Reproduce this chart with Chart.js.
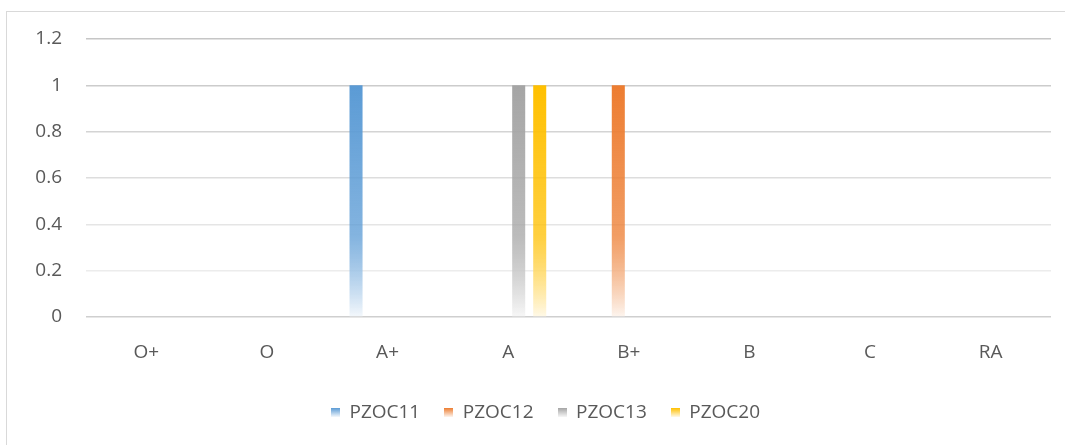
<!DOCTYPE html>
<html>
<head>
<meta charset="utf-8">
<script src="https://cdn.jsdelivr.net/npm/chart.js@4/dist/chart.umd.min.js"></script>
<style>
body{margin:0;background:#fff;overflow:hidden;}
#wrap{position:relative;width:1065px;height:445px;}
#frame{position:absolute;left:6px;top:11px;width:1100px;height:500px;border:1px solid #d9d9d9;pointer-events:none;}
</style>
</head>
<body>
<div id="wrap">
<canvas id="gradeChart" width="1065" height="445"></canvas>
<div id="frame"></div>
</div>
<script>
// grades on the x axis
const grades = ["O+","O","A+","A","B+","B","C","RA"];

// one array per course
const pzoc11 = [0,0,1,0,0,0,0,0];
const pzoc12 = [0,0,0,0,1,0,0,0];
const pzoc13 = [0,0,0,1,0,0,0,0];
const pzoc20 = [0,0,0,1,0,0,0,0];

const seriesNames = ["PZOC11","PZOC12","PZOC13","PZOC20"];
const seriesData = [pzoc11,pzoc12,pzoc13,pzoc20];
const topColors = ["#5b9bd5","#ed7d31","#a5a5a5","#ffc000"];
const bottomColors = ["#f4f8fc","#fdf5ef","#f7f7f7","#fff9e8"];

const gridColors = ["#cfcfcf","#ececec","#e5e5e5","#dddddd","#d4d4d4","#cccccc","#c6c6c6"];

function barFill(i){
  return function(ctx){
    const chart = ctx.chart;
    if(!chart.chartArea || !chart.scales.y) return topColors[i];
    const y = chart.scales.y;
    const g = chart.ctx.createLinearGradient(0,y.getPixelForValue(1),0,y.getPixelForValue(0));
    g.addColorStop(0,topColors[i]);
    g.addColorStop(0.65,topColors[i] + "c0");
    g.addColorStop(1,bottomColors[i]);
    return g;
  };
}

function legendBox(i){
  const c = document.createElement("canvas");
  c.width = 9; c.height = 9;
  const x = c.getContext("2d");
  const g = x.createLinearGradient(0,0,0,9);
  g.addColorStop(0,topColors[i]);
  g.addColorStop(1,bottomColors[i]);
  x.fillStyle = g;
  x.fillRect(0,0,9,9);
  return c;
}

// nudge the legend to the right, as in the original
const legendShift = {
  id:"legendShift",
  afterLayout:function(chart){
    if(chart.legend){ chart.legend.left += 20; chart.legend.right += 20; }
  }
};

const fontStack = "'Open Sans', 'Liberation Sans', sans-serif";

new Chart("gradeChart",{
  type:"bar",
  data:{
    labels:grades,
    datasets:seriesNames.map(function(name,i){
      return {
        label:name,
        data:seriesData[i],
        backgroundColor:barFill(i),
        borderWidth:0,
        categoryPercentage:0.697,
        barPercentage:0.62
      };
    })
  },
  plugins:[legendShift],
  options:{
    responsive:false,
    animation:false,
    layout:{padding:{left:0,right:14,top:39,bottom:13}},
    plugins:{
      tooltip:{enabled:false},
      legend:{
        position:"bottom",
        labels:{
          usePointStyle:true,
          boxWidth:9,
          boxHeight:9,
          padding:24,
          color:"#595959",
          font:{family:fontStack,size:19},
          generateLabels:function(chart){
            return seriesNames.map(function(name,i){
              return {text:name,pointStyle:legendBox(i),fillStyle:topColors[i],strokeStyle:"transparent",lineWidth:0,datasetIndex:i,fontColor:"#595959"};
            });
          }
        }
      }
    },
    scales:{
      x:{
        grid:{display:false},
        border:{display:false},
        ticks:{color:"#595959",padding:16,font:{family:fontStack,size:19},maxRotation:0},
        afterFit:function(s){s.height=62;}
      },
      y:{
        min:0,
        max:1.2,
        border:{display:false},
        grid:{
          drawTicks:false,
          lineWidth:1.6,
          color:function(ctx){return gridColors[ctx.index] || "#d9d9d9";}
        },
        ticks:{
          stepSize:0.2,
          color:"#595959",
          padding:24,
          font:{family:fontStack,size:19},
          callback:function(v){return String(Math.round(v*10)/10);}
        },
        afterFit:function(s){s.width=86;}
      }
    }
  }
});
</script>
</body>
</html>
